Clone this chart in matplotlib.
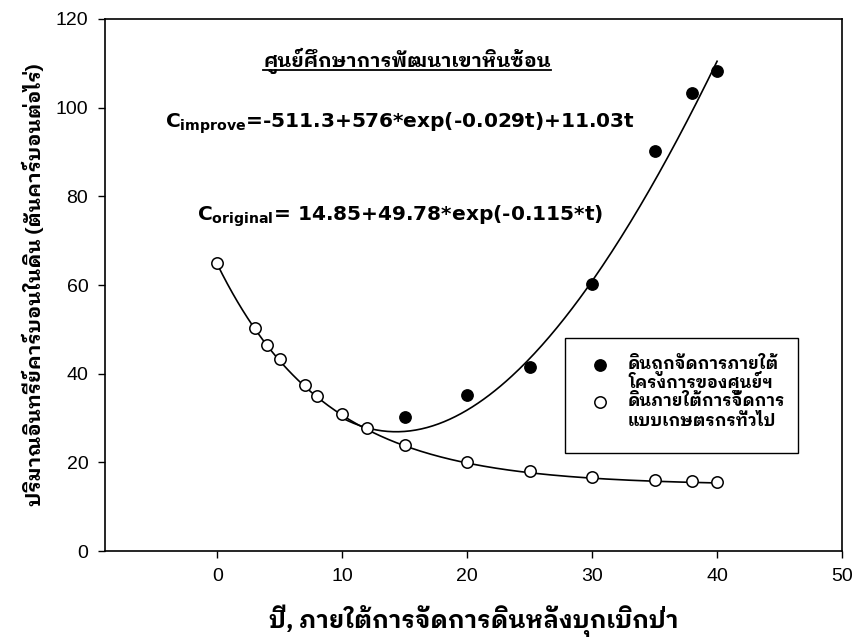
import matplotlib
matplotlib.use("Agg")
from matplotlib import pyplot as plt
from matplotlib.lines import Line2D
from matplotlib.patches import Rectangle
import numpy as np

THAI = ['IBM Plex Sans Thai Looped', 'DejaVu Sans']

# soil carbon under the centre's management (filled dots)
years_improve = [15, 20, 25, 30, 35, 38, 40]
carbon_improve = [30.2, 35.3, 41.4, 60.2, 90.3, 103.3, 108.2]

# soil carbon under ordinary farming (open dots)
years_original = [0, 3, 4, 5, 7, 8, 10, 12, 15, 20, 25, 30, 35, 38, 40]
carbon_original = [65.0, 50.3, 46.5, 43.2, 37.5, 35.0, 31.0, 27.7, 24.0,
                   20.0, 18.0, 16.7, 16.0, 15.8, 15.6]

x_ticks = [0, 10, 20, 30, 40, 50]
y_ticks = [0, 20, 40, 60, 80, 100, 120]

label_improve = ["ดินถูกจัดการภายใต้", "โครงการของศูนย์ฯ"]
label_original = ["ดินภายใต้การจัดการ", "แบบเกษตรกรทั่วไป"]
title_text = "ศูนย์ศึกษาการพัฒนาเขาหินซ้อน"
x_title = "ปี, ภายใต้การจัดการดินหลังบุกเบิกป่า"
y_title = "ปริมาณอินทรีย์คาร์บอนในดิน (ตันคาร์บอนต่อไร่)"


def c_improve(t):
    return -511.3 + 576 * np.exp(-0.029 * t) + 11.03 * t


def c_original(t):
    return 14.85 + 49.78 * np.exp(-0.115 * t)


plt.rcParams['font.family'] = ['Liberation Sans', 'DejaVu Sans']
plt.rcParams['mathtext.fontset'] = 'dejavusans'

fig = plt.figure(figsize=(8.57, 6.44), dpi=100)
ax = fig.add_axes([0.1225, 0.1444, 0.86, 0.8261])

# fitted curves
t1 = np.linspace(10, 40, 200)
t2 = np.linspace(0, 40, 200)
ax.plot(t1, c_improve(t1), color='black', lw=1.2, zorder=2)
ax.plot(t2, c_original(t2), color='black', lw=1.2, zorder=2)

dot_style = dict(marker='o', ms=8.2, mec='black', ls='none', zorder=3)
ax.plot(years_improve, carbon_improve, mfc='black', **dot_style)
ax.plot(years_original, carbon_original, mfc='white', mew=1.1, **dot_style)

ax.set_xlim(-9, 50)
ax.set_ylim(0, 120)
ax.set_xticks(x_ticks)
ax.set_yticks(y_ticks)
ax.tick_params(direction='out', length=5, width=1, pad=7, labelsize=14)
for s in ax.spines.values():
    s.set_linewidth(1.2)

ax.set_xlabel(x_title, family=THAI, fontweight='bold', fontsize=17.3, labelpad=14)
ax.set_ylabel(y_title, family=THAI, fontweight='bold', fontsize=14.5, labelpad=8)

# fitted equations
ax.text(-4.2, 95.5, r"C$_{\mathbf{improve}}$=-511.3+576*exp(-0.029t)+11.03t",
        family='DejaVu Sans', fontweight='bold', fontsize=14.5, va='baseline', ha='left')
ax.text(-1.6, 74.5, r"C$_{\mathbf{original}}$= 14.85+49.78*exp(-0.115*t)",
        family='DejaVu Sans', fontweight='bold', fontsize=14.5, va='baseline', ha='left')

# underlined heading
title = ax.text(3.65, 110.5, title_text, family=THAI, fontweight='bold', fontsize=14,
                ha='left', va='center')

# legend box, marker beside the first line of each label
ax.add_patch(Rectangle((0.624, 0.184), 0.316, 0.216, transform=ax.transAxes, fill=False,
                       edgecolor='black', lw=1.0, zorder=4))
ax.plot([0.6716], [0.3496], transform=ax.transAxes, mfc='black', clip_on=False, **dot_style)
ax.plot([0.6716], [0.2801], transform=ax.transAxes, mfc='white', mew=1.1, clip_on=False,
        **dot_style)
row_y = [0.3422, 0.3065, 0.2727, 0.2350]
for y, s in zip(row_y, label_improve + label_original):
    ax.text(0.7096, y, s, transform=ax.transAxes, family=THAI, fontweight='bold',
            fontsize=12, va='baseline', ha='left')

fig.canvas.draw()
bb = title.get_window_extent().transformed(fig.transFigure.inverted())
uy = bb.y0 + 0.006
fig.add_artist(Line2D([bb.x0, bb.x1], [uy, uy], transform=fig.transFigure,
                      color='black', lw=1.3))

fig.savefig("out.png", dpi=100)
